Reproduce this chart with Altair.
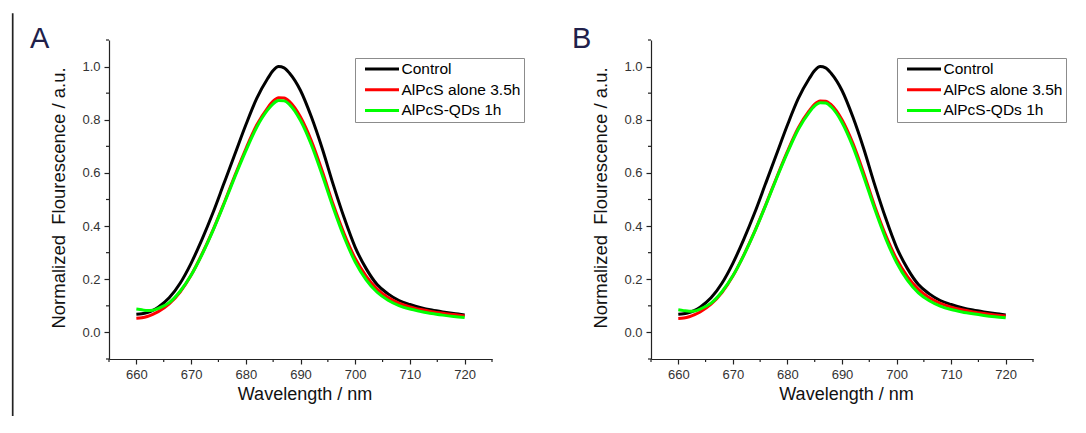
import altair as alt
import pandas as pd

FONT = "Liberation Sans"

wavelength = [660, 661, 662, 663, 664, 666, 668, 670, 672, 674, 676, 678, 680, 682, 684, 685, 686, 687,
              688, 690, 692, 694, 696, 698, 700, 702, 704, 706, 708, 710, 712, 714, 716, 718, 720]

series_names = ["Control", "AlPcS alone 3.5h", "AlPcS-QDs 1h"]
series_colors = ["#000000", "#ff0000", "#00ff00"]

# Panel A
control_a = [0.068, 0.070, 0.075, 0.083, 0.095, 0.130, 0.185, 0.260, 0.350, 0.450, 0.560, 0.670, 0.780, 0.880,
             0.955, 0.985, 1.000, 0.995, 0.975, 0.910, 0.810, 0.690, 0.555, 0.430, 0.320, 0.240, 0.180, 0.145,
             0.120, 0.105, 0.093, 0.084, 0.077, 0.071, 0.066]
alone_a = [0.053, 0.055, 0.060, 0.068, 0.078, 0.107, 0.152, 0.215, 0.295, 0.385, 0.485, 0.590, 0.690, 0.780,
           0.845, 0.870, 0.883, 0.882, 0.868, 0.810, 0.720, 0.605, 0.480, 0.370, 0.278, 0.212, 0.163, 0.131,
           0.110, 0.096, 0.086, 0.078, 0.072, 0.067, 0.062]
qds_a = [0.088, 0.085, 0.082, 0.083, 0.090, 0.112, 0.155, 0.215, 0.293, 0.383, 0.482, 0.585, 0.683, 0.772,
         0.837, 0.860, 0.872, 0.871, 0.857, 0.797, 0.705, 0.590, 0.468, 0.357, 0.265, 0.198, 0.151, 0.121,
         0.101, 0.088, 0.079, 0.071, 0.065, 0.060, 0.056]

# Panel B
control_b = [0.068, 0.070, 0.075, 0.083, 0.095, 0.130, 0.185, 0.260, 0.350, 0.450, 0.560, 0.670, 0.780, 0.880,
             0.955, 0.985, 1.000, 0.995, 0.975, 0.910, 0.810, 0.690, 0.555, 0.430, 0.320, 0.240, 0.180, 0.145,
             0.120, 0.105, 0.093, 0.084, 0.077, 0.071, 0.066]
alone_b = [0.052, 0.054, 0.059, 0.067, 0.077, 0.106, 0.150, 0.212, 0.291, 0.380, 0.479, 0.582, 0.681, 0.770,
           0.834, 0.859, 0.871, 0.870, 0.857, 0.800, 0.711, 0.598, 0.475, 0.366, 0.276, 0.210, 0.162, 0.130,
           0.109, 0.095, 0.085, 0.077, 0.071, 0.066, 0.062]
qds_b = [0.085, 0.082, 0.080, 0.081, 0.088, 0.110, 0.153, 0.213, 0.290, 0.379, 0.477, 0.579, 0.676, 0.764,
         0.828, 0.852, 0.864, 0.863, 0.849, 0.790, 0.699, 0.585, 0.464, 0.354, 0.263, 0.196, 0.149, 0.119,
         0.099, 0.086, 0.077, 0.070, 0.064, 0.059, 0.055]

x_major = [660, 670, 680, 690, 700, 710, 720]
x_minor = [655, 665, 675, 685, 695, 705, 715, 725]
y_major = [0.0, 0.2, 0.4, 0.6, 0.8, 1.0]
y_minor = [-0.1, 0.1, 0.3, 0.5, 0.7, 0.9, 1.1]

AX = "#222222"


def panel(letter, control, alone, qds, width, with_rule):
    rows = []
    for name, vals in zip(series_names, [control, alone, qds]):
        for w, v in zip(wavelength, vals):
            rows.append({"wl": w, "v": v, "series": name})
    df = pd.DataFrame(rows)

    x_enc = alt.X("wl:Q",
                  scale=alt.Scale(domain=[655, 725], nice=False, zero=False),
                  axis=alt.Axis(values=x_major, title="Wavelength / nm", grid=False,
                                tickSize=5, tickWidth=1.2, tickColor=AX,
                                domainColor=AX, domainWidth=1.2,
                                labelFont=FONT, labelFontSize=13, labelColor="#333333",
                                labelPadding=4, labelFlush=False,
                                titleFont=FONT, titleFontSize=18, titleFontWeight="normal",
                                titleColor="#111111", titlePadding=4, titleX=width / 2 + 4))
    y_enc = alt.Y("v:Q",
                  scale=alt.Scale(domain=[-0.1, 1.1], nice=False, zero=False),
                  axis=alt.Axis(values=y_major, format=".1f",
                                title="Normalized\u00a0 Flourescence / a.u.", grid=False,
                                tickSize=5, tickWidth=1.2, tickColor=AX,
                                domainColor=AX, domainWidth=1.2,
                                labelFont=FONT, labelFontSize=13, labelColor="#333333",
                                labelPadding=4, labelFlush=False,
                                titleFont=FONT, titleFontSize=18.5, titleFontWeight="normal",
                                titleColor="#111111", titlePadding=13, titleY=157.5))
    color_enc = alt.Color("series:N",
                          scale=alt.Scale(domain=series_names, range=series_colors),
                          legend=alt.Legend(title=None, orient="none", legendX=246, legendY=18,
                                            symbolType="stroke", symbolSize=1156, symbolStrokeWidth=3,
                                            labelFont=FONT, labelFontSize=15.5, labelColor="#000000",
                                            labelLimit=300, padding=3, rowPadding=3.7, clipHeight=16,
                                            symbolOffset=5.5, labelOffset=1,
                                            strokeColor="#8c8c8c", fillColor="#ffffff"))

    base = alt.Chart(df)
    layers = []
    for name in series_names:
        layers.append(
            base.transform_filter(alt.datum.series == name)
            .mark_line(strokeWidth=3, interpolate="monotone")
            .encode(x=x_enc, y=y_enc, color=color_enc)
        )

    xm = alt.Chart(pd.DataFrame({"wl": x_minor})).mark_rule(color=AX, strokeWidth=1.2).encode(
        x=x_enc, y=alt.value(319), y2=alt.value(322))
    ym = alt.Chart(pd.DataFrame({"v": y_minor})).mark_rule(color=AX, strokeWidth=1.2).encode(
        y=y_enc, x=alt.value(-3), x2=alt.value(0))

    txt = alt.Chart(pd.DataFrame({"t": [letter]})).mark_text(
        font=FONT, fontSize=29, color="#20204a", align="left", baseline="alphabetic"
    ).encode(text="t:N", x=alt.value(-79), y=alt.value(8))

    parts = [xm, ym] + layers + [txt]
    if with_rule:
        bar = alt.Chart(pd.DataFrame({"t": [0]})).mark_rule(color=AX, strokeWidth=1.7).encode(
            x=alt.value(-96.3), y=alt.value(-26.7), y2=alt.value(376))
        parts = [bar] + parts
    return alt.layer(*parts).properties(width=width, height=319)


panel_a = panel("A", control_a, alone_a, qds_a, 383, True)
panel_b = panel("B", control_b, alone_b, qds_b, 382, False)

chart = alt.hconcat(panel_a, panel_b, spacing=47).resolve_scale(
    color="independent"
).resolve_legend(color="independent").properties(
    padding={"left": 3, "top": 4, "right": 0, "bottom": 0}
).configure(font=FONT).configure_view(stroke=None)

chart.save("out.html", embed_options={"renderer": "svg", "actions": False})
